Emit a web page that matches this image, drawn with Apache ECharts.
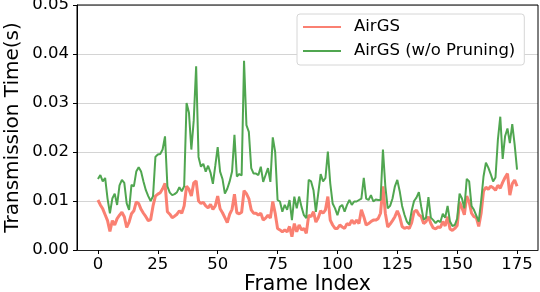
<!DOCTYPE html>
<html>
<head>
<meta charset="utf-8">
<script src="https://cdn.jsdelivr.net/npm/echarts@6/dist/echarts.min.js"></script>
<style>
html,body{margin:0;padding:0;background:#fff;}
#chart{width:540px;height:292px;}
</style>
</head>
<body>
<div id="chart"></div>
<script>
const xTicks = [0, 25, 50, 75, 100, 125, 150, 175];
const yTicks = [0, 0.01, 0.02, 0.03, 0.04, 0.05];
const seriesNames = ['AirGS', 'AirGS (w/o Pruning)'];

const airgs = [
0.0102,0.0092,0.0084,0.0072,0.0060,0.0038,0.0060,0.0051,0.0064,0.0071,
0.0077,0.0068,0.0046,0.0057,0.0074,0.0080,0.0098,0.0095,0.0083,0.0075,
0.0068,0.0060,0.0062,0.0090,0.0110,0.0114,0.0117,0.0125,0.0136,0.0078,
0.0073,0.0066,0.0069,0.0073,0.0080,0.0075,0.0090,0.0130,0.0124,0.0110,
0.0137,0.0141,0.0100,0.0095,0.0097,0.0090,0.0086,0.0093,0.0083,0.0090,
0.0110,0.0084,0.0076,0.0066,0.0056,0.0073,0.0083,0.0114,0.0076,0.0074,
0.0077,0.0121,0.0115,0.0105,0.0082,0.0075,0.0075,0.0071,0.0075,0.0061,
0.0065,0.0071,0.0065,0.0099,0.0075,0.0044,0.0041,0.0037,0.0041,0.0037,
0.0048,0.0027,0.0054,0.0037,0.0051,0.0041,0.0044,0.0034,0.0071,0.0068,
0.0078,0.0057,0.0066,0.0080,0.0075,0.0082,0.0109,0.0061,0.0051,0.0044,
0.0044,0.0051,0.0047,0.0044,0.0054,0.0051,0.0061,0.0054,0.0061,0.0054,
0.0082,0.0068,0.0051,0.0054,0.0058,0.0061,0.0061,0.0064,0.0075,0.0130,
0.0075,0.0047,0.0053,0.0060,0.0068,0.0080,0.0068,0.0048,0.0044,0.0046,
0.0044,0.0056,0.0078,0.0081,0.0072,0.0068,0.0054,0.0058,0.0068,0.0054,
0.0045,0.0043,0.0047,0.0046,0.0058,0.0049,0.0068,0.0043,0.0040,0.0044,
0.0050,0.0098,0.0086,0.0072,0.0110,0.0098,0.0075,0.0068,0.0066,0.0048,
0.0075,0.0120,0.0128,0.0124,0.0130,0.0127,0.0122,0.0132,0.0126,0.0138,
0.0148,0.0156,0.0112,0.0135,0.0143,0.0130
];

const airgsNoPruning = [
0.0145,0.0153,0.0140,0.0147,0.0105,0.0075,0.0105,0.0115,0.0092,0.0132,
0.0143,0.0137,0.0095,0.0082,0.0133,0.0130,0.0160,0.0169,0.0160,0.0140,
0.0122,0.0110,0.0100,0.0110,0.0190,0.0195,0.0196,0.0205,0.0232,0.0130,
0.0117,0.0112,0.0114,0.0118,0.0128,0.0120,0.0130,0.0300,0.0280,0.0205,
0.0265,0.0375,0.0190,0.0170,0.0176,0.0160,0.0172,0.0158,0.0135,0.0172,
0.0210,0.0160,0.0145,0.0115,0.0125,0.0140,0.0160,0.0235,0.0150,0.0155,
0.0152,0.0386,0.0255,0.0241,0.0167,0.0156,0.0156,0.0153,0.0170,0.0139,
0.0153,0.0167,0.0139,0.0230,0.0200,0.0102,0.0099,0.0078,0.0092,0.0082,
0.0102,0.0061,0.0109,0.0085,0.0109,0.0088,0.0071,0.0065,0.0143,0.0140,
0.0122,0.0078,0.0116,0.0155,0.0140,0.0147,0.0201,0.0136,0.0095,0.0085,
0.0071,0.0088,0.0092,0.0078,0.0092,0.0102,0.0092,0.0099,0.0099,0.0102,
0.0105,0.0147,0.0105,0.0102,0.0112,0.0099,0.0103,0.0102,0.0102,0.0205,
0.0130,0.0085,0.0090,0.0105,0.0130,0.0143,0.0120,0.0090,0.0072,0.0058,
0.0052,0.0080,0.0100,0.0107,0.0118,0.0088,0.0062,0.0066,0.0108,0.0066,
0.0061,0.0055,0.0060,0.0057,0.0074,0.0066,0.0090,0.0058,0.0049,0.0051,
0.0064,0.0115,0.0105,0.0085,0.0145,0.0140,0.0090,0.0082,0.0070,0.0058,
0.0100,0.0150,0.0178,0.0168,0.0155,0.0140,0.0148,0.0225,0.0272,0.0186,
0.0232,0.0248,0.0218,0.0257,0.0215,0.0164
];

const frameIndex = airgs.map((_, i) => i);
const X_MIN = -8.75, X_MAX = 183.75, Y_MIN = 0, Y_MAX = 0.05;

const chart = echarts.init(document.getElementById('chart'), null, {renderer: 'canvas'});
const FONT = 'DejaVu Sans';
chart.setOption({
  animation: false,
  backgroundColor: '#fff',
  textStyle: {fontFamily: FONT, color: '#000'},
  grid: {left: 77, right: 2, top: 5, bottom: 42, containLabel: false, outerBoundsMode: 'none'},
  legend: {
    orient: 'vertical',
    left: 297, top: 14,
    padding: [4, 9, 5, 6],
    itemGap: 6,
    itemWidth: 38, itemHeight: 2,
    icon: 'rect',
    backgroundColor: '#fff',
    borderColor: '#d6d6d6', borderWidth: 1, borderRadius: 3,
    textStyle: {fontFamily: FONT, fontSize: 16.5, color: '#000', lineHeight: 18, padding: [0, 0, 0, 8]},
    data: seriesNames,
    z: 10
  },
  xAxis: {
    type: 'value',
    min: X_MIN, max: X_MAX,
    name: 'Frame Index',
    nameLocation: 'middle', nameGap: 24, nameMoveOverlap: false,
    nameTextStyle: {fontFamily: FONT, fontSize: 20.5, color: '#000'},
    axisLine: {show: true, onZero: false, lineStyle: {color: '#222', width: 1}},
    axisTick: {show: true, customValues: xTicks, length: 4, lineStyle: {color: '#000'}},
    axisLabel: {customValues: xTicks, fontFamily: FONT, fontSize: 16.5, color: '#000', margin: 6},
    splitLine: {show: false}
  },
  yAxis: {
    type: 'value', position: 'left', offset: 0,
    min: Y_MIN, max: Y_MAX, interval: 0.01,
    name: 'Transmission Time(s)',
    nameLocation: 'middle', nameGap: 54, nameMoveOverlap: false,
    nameTextStyle: {fontFamily: FONT, fontSize: 20, color: '#000'},
    axisLine: {show: true, onZero: false, lineStyle: {color: '#000', width: 1}},
    axisTick: {show: true, length: 4, lineStyle: {color: '#000'}},
    axisLabel: {fontFamily: FONT, fontSize: 16.5, color: '#000', margin: 8,
      formatter: v => yTicks.indexOf(Math.round(v * 100) / 100) >= 0 ? v.toFixed(2) : ''},
    splitLine: {show: true, lineStyle: {color: '#d4d4d4', width: 1}}
  },
  series: [
    {
      name: 'frame', type: 'line', showSymbol: false, symbol: 'none', clip: false, silent: true,
      data: [[X_MIN, Y_MIN], [X_MIN, Y_MAX], [X_MAX, Y_MAX], [X_MAX, Y_MIN]],
      lineStyle: {color: '#000', width: 1},
      z: 4
    },
    {
      name: seriesNames[0], type: 'line', showSymbol: false, symbol: 'none',
      data: frameIndex.map((x, i) => [x, airgs[i]]),
      lineStyle: {color: '#fa8072', width: 3},
      itemStyle: {color: '#fa8072'},
      z: 2
    },
    {
      name: seriesNames[1], type: 'line', showSymbol: false, symbol: 'none',
      data: frameIndex.map((x, i) => [x, airgsNoPruning[i]]),
      lineStyle: {color: '#50a650', width: 2},
      itemStyle: {color: '#50a650'},
      z: 3
    }
  ]
});
</script>
</body>
</html>
